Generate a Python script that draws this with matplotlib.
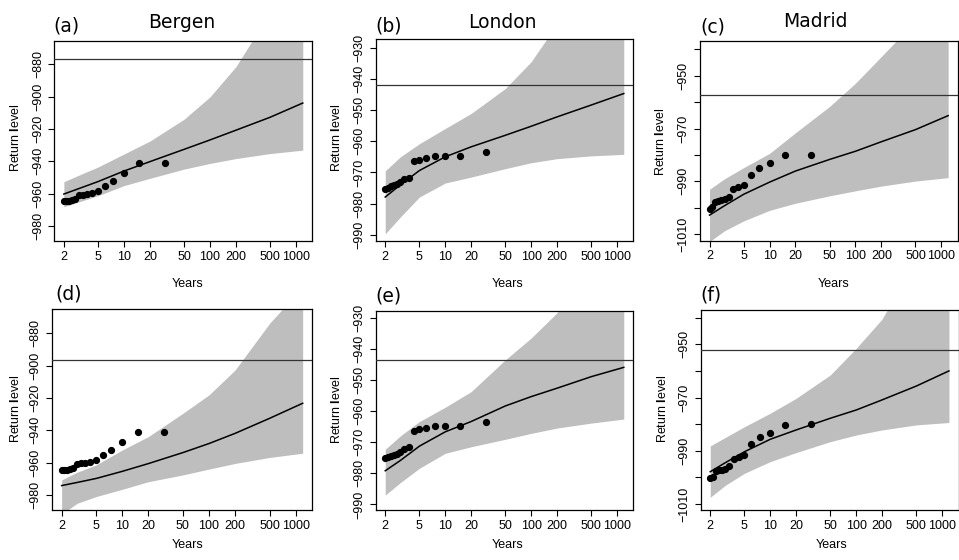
import matplotlib
matplotlib.use("Agg")
import matplotlib.pyplot as plt
from matplotlib.ticker import NullLocator

plt.rcParams["font.family"] = ["Liberation Sans", "DejaVu Sans"]
plt.rcParams["mathtext.fontset"] = "custom"
plt.rcParams["mathtext.rm"] = "Liberation Sans"
plt.rcParams["mathtext.bf"] = "Liberation Sans:bold"

# ---- data ----
# empirical return periods (years) of the observed annual extremes
obs_years = [30, 15, 10, 7.5, 6, 5, 4.29, 3.75, 3.33, 3, 2.73, 2.5, 2.31, 2.14, 2]
bergen_obs = [-940.9, -941.3, -947.3, -952.4, -955.3, -958.6, -959.6, -960.2,
              -960.5, -960.9, -963.3, -964.0, -964.4, -964.6, -964.8]
london_obs = [-963.5, -964.7, -964.8, -964.8, -965.4, -965.9, -966.3, -971.7,
              -972.1, -973.1, -973.8, -974.1, -974.5, -974.9, -975.2]
madrid_obs = [-979.9, -980.2, -983.2, -984.8, -987.5, -991.5, -992.3, -993.0,
              -995.8, -996.8, -997.2, -997.4, -997.8, -999.8, -1000.3]

# return periods at which the fitted curve and band were read
fit_years = [2, 3, 5, 10, 20, 50, 100, 200, 500, 1200]

fit_a = [-960.2, -956.8, -952.5, -946.0, -940.2, -932.6, -926.8, -920.8, -912.8, -904.0]
up_a = [-952.6, -948.5, -943.5, -935.5, -927.5, -914.0, -900.2, -881.6, -848.0, -800.0]
lo_a = [-968.1, -965.0, -961.2, -955.0, -950.5, -944.8, -941.3, -938.3, -935.2, -933.1]

fit_b = [-977.9, -974.0, -969.4, -965.0, -961.8, -958.1, -955.2, -952.2, -948.4, -944.7]
up_b = [-969.5, -965.0, -960.8, -955.9, -951.1, -943.1, -934.5, -922.5, -905.0, -885.0]
lo_b = [-989.7, -984.3, -977.9, -973.4, -971.5, -968.8, -966.9, -965.6, -964.7, -964.2]

fit_c = [-1002.8, -999.2, -994.9, -990.3, -986.1, -981.7, -978.6, -975.0, -970.4, -965.1]
up_c = [-993.0, -989.0, -984.8, -979.4, -971.6, -961.6, -952.8, -942.7, -929.2, -905.0]
lo_c = [-1012.8, -1008.7, -1005.0, -1001.0, -998.3, -995.5, -993.6, -991.8, -989.9, -988.6]

fit_d = [-974.2, -972.3, -969.8, -965.4, -960.6, -953.8, -948.2, -941.9, -932.6, -923.3]
up_d = [-970.7, -966.0, -961.4, -952.2, -943.9, -929.5, -918.1, -902.7, -873.8, -851.4]
lo_d = [-992.0, -985.2, -981.0, -976.5, -971.8, -967.6, -964.0, -960.5, -956.8, -954.2]

fit_e = [-979.2, -975.9, -971.3, -966.7, -963.4, -958.4, -955.4, -952.7, -949.0, -946.0]
up_e = [-972.3, -968.0, -963.4, -958.8, -953.8, -943.6, -936.6, -928.5, -912.0, -895.0]
lo_e = [-987.0, -983.0, -978.4, -973.6, -971.5, -969.1, -967.2, -965.5, -963.9, -962.6]

fit_f = [-997.9, -994.5, -990.4, -985.7, -982.2, -977.8, -974.7, -970.9, -965.7, -960.0]
up_f = [-988.2, -985.0, -981.0, -975.9, -970.3, -961.5, -951.5, -940.5, -918.0, -890.0]
lo_f = [-1007.5, -1003.0, -998.5, -994.1, -990.7, -986.6, -984.1, -982.2, -980.3, -979.4]

# threshold lines
hline = [-877.1, -942.0, -957.4, -896.7, -943.7, -952.1]

panel_letters = ["(a)", "(b)", "(c)", "(d)", "(e)", "(f)"]
cities = ["Bergen", "London", "Madrid"]

x_ticks = [2, 5, 10, 20, 50, 100, 200, 500, 1000]
x_labels = ["2", "5", "10", "20", "50", "100", "200", "500", "1000"]

bergen_yticks = [-980, -960, -940, -920, -900, -880]
bergen_ylabels = ["\u2212980", "\u2212960", "\u2212940", "\u2212920", "\u2212900", "\u2212880"]
london_yticks = [-990, -980, -970, -960, -950, -940, -930]
london_ylabels = ["\u2212990", "\u2212980", "\u2212970", "\u2212960", "\u2212950", "\u2212940", "\u2212930"]
madrid_yticks = [-1010, -1000, -990, -980, -970, -960, -950, -940]
madrid_ylabels = ["\u22121010", "", "\u2212990", "", "\u2212970", "", "\u2212950", ""]

# ---- layout (pixels) ----
W, H = 959, 560
fig = plt.figure(figsize=(W / 100, H / 100), dpi=100)


def px_axes(left, top, right, bottom):
    return fig.add_axes([left / W, 1 - bottom / H, (right - left) / W, (bottom - top) / H])


boxes = [
    (54.3, 40.7, 312.3, 241.0),
    (375.7, 39.3, 633.3, 241.0),
    (700.0, 40.7, 957.7, 240.7),
    (52.0, 309.3, 312.3, 510.0),
    (375.7, 311.0, 633.3, 510.0),
    (700.7, 310.0, 958.5, 510.0),
]
ylims = [(-989.2, -865.5), (-992.0, -927.3), (-1012.5, -936.7),
         (-989.3, -865.2), (-991.8, -927.9), (-1012.3, -937.1)]

obs = [bergen_obs, london_obs, madrid_obs] * 2
fits = [fit_a, fit_b, fit_c, fit_d, fit_e, fit_f]
ups = [up_a, up_b, up_c, up_d, up_e, up_f]
los = [lo_a, lo_b, lo_c, lo_d, lo_e, lo_f]
yticks = [bergen_yticks, london_yticks, madrid_yticks] * 2
ylabels = [bergen_ylabels, london_ylabels, madrid_ylabels] * 2

# R style: 4% padding on each side of the log range
lx0, lx1 = 2, 1200
pad = (lx1 / lx0) ** 0.04

for i in range(6):
    ax = px_axes(*boxes[i])
    ax.fill_between(fit_years, los[i], ups[i], color="#BEBEBE", lw=0, zorder=1)
    ax.plot(fit_years, fits[i], color="black", lw=1.1, zorder=2)
    ax.axhline(hline[i], color="#333333", lw=0.9, zorder=3)
    ax.plot(obs_years, obs[i], "o", color="black", ms=4.2, zorder=4)

    ax.set_xscale("log")
    ax.set_xlim(lx0 / pad, lx1 * pad)
    ax.set_ylim(*ylims[i])
    ax.set_xticks(x_ticks)
    ax.set_xticklabels(x_labels)
    ax.xaxis.set_minor_locator(NullLocator())
    ax.set_yticks(yticks[i])
    ax.set_yticklabels(ylabels[i], rotation=90, va="center")
    ax.tick_params(direction="out", length=4.5, width=0.8, labelsize=9, color="black")
    ax.tick_params(axis="x", pad=2.5)
    ax.tick_params(axis="y", pad=3)
    for s in ax.spines.values():
        s.set_linewidth(0.9)
        s.set_color("black")

# ---- text ----
title_font = dict(family="DejaVu Sans", fontsize=13.5, va="baseline")
letter_pos = [(53.3, 31.0), (375.0, 31.0), (700.7, 32.5),
              (55.0, 299.5), (375.0, 301.0), (700.7, 300.3)]
for lab, (x, y) in zip(panel_letters, letter_pos):
    fig.text(x / W, 1 - y / H, lab, ha="left", **title_font)

city_pos = [(181.3, 28.3), (502.0, 28.3), (815.0, 27.3)]
for name, (x, y) in zip(cities, city_pos):
    fig.text(x / W, 1 - y / H, name, ha="center", **title_font)

years_pos = [(188, 284), (508, 284), (834, 284), (187.5, 545), (507.5, 545), (832, 545)]
for x, y in years_pos:
    fig.text(x / W, 1 - y / H, "Years", ha="center", va="center", fontsize=9)

rl_pos = [(15.8, 138), (337, 138), (661, 142), (15.5, 409), (337, 410), (662, 409)]
for x, y in rl_pos:
    fig.text(x / W, 1 - y / H, r"Return $\mathbf{l}$evel", ha="center", va="center",
             rotation=90, fontsize=9)

fig.savefig("out.png", dpi=100)
